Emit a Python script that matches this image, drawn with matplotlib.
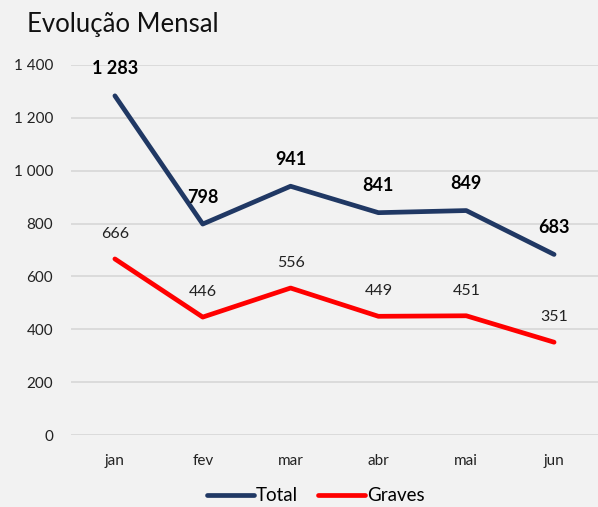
import matplotlib
matplotlib.use("Agg")
import matplotlib.pyplot as plt
from matplotlib.ticker import FuncFormatter

months = ["jan", "fev", "mar", "abr", "mai", "jun"]
total = [1283, 798, 941, 841, 849, 683]
graves = [666, 446, 556, 449, 451, 351]
yticks = [0, 200, 400, 600, 800, 1000, 1200, 1400]

plt.rcParams['font.family'] = ['Lato', 'DejaVu Sans']
bg = '#f2f2f2'
fig = plt.figure(figsize=(5.98, 5.07), dpi=100, facecolor=bg)
ax = fig.add_axes([0.1187, 0.142, 0.8813, 0.730], facecolor=bg)

x = list(range(len(months)))
l1, = ax.plot(x, total, color='#203864', lw=3.4, solid_capstyle='round', label='Total')
l2, = ax.plot(x, graves, color='#ff0000', lw=3.4, solid_capstyle='round', label='Graves')

def fmt(v):
    return f"{int(v):,}".replace(",", " ")

for xi, v in zip(x, total):
    ax.annotate(fmt(v), (xi, v), xytext=(0, 27), textcoords='offset pixels',
                ha='center', va='center', fontsize=13, fontweight='bold', color='#000000')
for xi, v in zip(x, graves):
    ax.annotate(fmt(v), (xi, v), xytext=(0, 25), textcoords='offset pixels',
                ha='center', va='center', fontsize=11.5, color='#222222')

ax.set_xlim(-0.5, len(months) - 0.5)
ax.set_ylim(0, 1400)
ax.set_yticks(yticks)
ax.yaxis.set_major_formatter(FuncFormatter(lambda v, p: fmt(v)))
ax.set_xticks(x)
ax.set_xticklabels(months)
ax.tick_params(axis='both', length=0, labelsize=11, colors='#222222')
ax.tick_params(axis='y', pad=13)
ax.tick_params(axis='x', pad=14)
ax.grid(axis='y', color='#d9d9d9', lw=1.3)
ax.set_axisbelow(True)
for s in ax.spines.values():
    s.set_visible(False)

fig.text(0.045, 0.952, "Evolução Mensal", fontsize=18.5, ha='left', va='center', color='#111111')

fig.legend(handles=[l1, l2], loc='center', bbox_to_anchor=(0.528, 0.022), ncol=2,
           frameon=False, fontsize=13.5, handlelength=2.5, handletextpad=0.1,
           columnspacing=1.1)

fig.savefig("out.png", dpi=100, facecolor=bg)
